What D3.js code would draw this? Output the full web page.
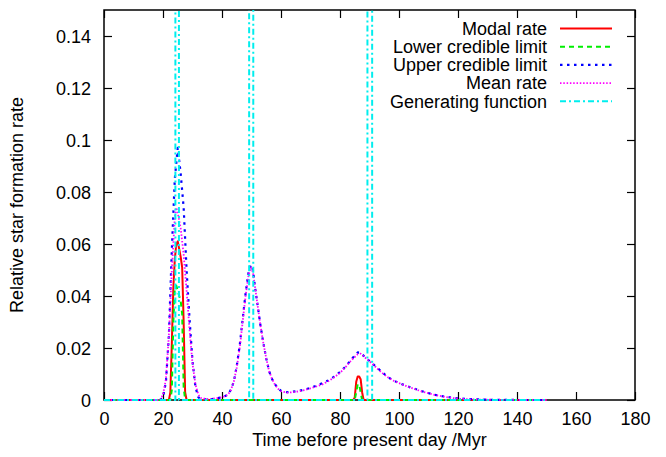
<!DOCTYPE html>
<html><head><meta charset="utf-8">
<script src="https://cdn.jsdelivr.net/npm/d3@7"></script>
<style>
body{margin:0;background:#fff}
svg{display:block}
text{font-family:"Liberation Sans",Arial,Helvetica,sans-serif;font-size:18px;fill:#000}
</style>
</head><body>
<svg id="chart" width="666" height="457"></svg>
<script>
// ---------- data ----------
const xTicks = [0, 20, 40, 60, 80, 100, 120, 140, 160, 180];
const xTickLabels = ["0", "20", "40", "60", "80", "100", "120", "140", "160", "180"];
const yTicks = [0, 0.02, 0.04, 0.06, 0.08, 0.1, 0.12, 0.14];
const yTickLabels = ["0", "0.02", "0.04", "0.06", "0.08", "0.1", "0.12", "0.14"];

const seriesNames = ["Modal rate", "Lower credible limit", "Upper credible limit", "Mean rate", "Generating function"];

const modalTime = [0, 22, 22.5, 23, 23.5, 24, 24.5, 25, 25.5, 26, 26.5, 27, 27.5, 28, 84.5, 85, 85.5, 86, 86.5, 87, 87.5, 88, 150];
const modalRate = [0, 0, 0.003, 0.022, 0.043, 0.054, 0.060, 0.061, 0.058, 0.055, 0.051, 0.030, 0.003, 0, 0, 0.001, 0.007, 0.009, 0.009, 0.008, 0.003, 0, 0];

const lowerTime = [0, 22.5, 23, 23.5, 24, 24.5, 25, 25.5, 26, 26.5, 27, 27.5, 85, 85.5, 86, 86.5, 87, 87.5, 150];
const lowerRate = [0, 0, 0.004, 0.030, 0.043, 0.044, 0.042, 0.040, 0.038, 0.033, 0.005, 0, 0, 0.003, 0.006, 0.006, 0.003, 0, 0];

const upperTime = [0, 19, 20, 21, 22, 23, 24, 25, 26, 27, 28, 29, 30, 31, 32, 33, 36, 40, 42, 43, 44, 45, 46, 47, 48, 49, 49.8, 50.5, 51, 52, 53, 54, 55, 56, 57, 58, 59, 60, 62, 64, 66, 68, 70, 72, 74, 76, 78, 80, 82, 84, 86, 87, 88, 90, 92, 94, 96, 98, 100, 104, 108, 112, 116, 120, 125, 130, 140, 150];
const upperRate = [0, 0, 0.001, 0.007, 0.025, 0.058, 0.085, 0.097, 0.087, 0.074, 0.050, 0.031, 0.015, 0.005, 0.001, 0.0003, 0.0002, 0.001, 0.002, 0.004, 0.007, 0.013, 0.021, 0.031, 0.041, 0.049, 0.052, 0.050, 0.045, 0.037, 0.029, 0.022, 0.016, 0.011, 0.008, 0.006, 0.0045, 0.0035, 0.003, 0.0032, 0.0035, 0.004, 0.0047, 0.0055, 0.0065, 0.0075, 0.009, 0.0107, 0.013, 0.0158, 0.0183, 0.0182, 0.017, 0.015, 0.013, 0.011, 0.009, 0.0075, 0.0065, 0.0048, 0.0033, 0.002, 0.0012, 0.0006, 0.0003, 0.0001, 0, 0];

const meanTime = [0, 19, 20, 21, 22, 23, 24, 24.5, 25, 26, 27, 28, 29, 30, 31, 32, 33, 36, 40, 42, 43, 44, 45, 46, 47, 48, 49, 49.8, 50.5, 51, 52, 53, 54, 55, 56, 57, 58, 59, 60, 62, 64, 66, 68, 70, 72, 74, 76, 78, 80, 82, 84, 86, 87, 88, 90, 92, 94, 96, 98, 100, 104, 108, 112, 116, 120, 125, 130, 140, 150];
const meanRate = [0, 0, 0.002, 0.008, 0.025, 0.050, 0.070, 0.074, 0.072, 0.066, 0.056, 0.042, 0.027, 0.014, 0.006, 0.002, 0.0006, 0.0003, 0.001, 0.002, 0.0038, 0.007, 0.0125, 0.020, 0.030, 0.040, 0.048, 0.051, 0.049, 0.045, 0.037, 0.029, 0.022, 0.016, 0.011, 0.008, 0.0058, 0.0043, 0.0034, 0.0028, 0.003, 0.0033, 0.0038, 0.0045, 0.0052, 0.006, 0.0072, 0.0087, 0.0104, 0.0128, 0.0155, 0.0176, 0.0178, 0.0168, 0.0149, 0.0128, 0.0107, 0.0089, 0.0075, 0.0065, 0.0047, 0.0032, 0.002, 0.0011, 0.0005, 0.0002, 0.0001, 0, 0];

const genTime = [0, 24.2, 24.2, 25.4, 25.4, 49.2, 49.2, 50.6, 50.6, 89.3, 89.3, 90.9, 90.9, 150];
const genRate = [0, 0, 0.3, 0.3, 0, 0, 0.3, 0.3, 0, 0, 0.3, 0.3, 0, 0];

// ---------- layout ----------
const svg = d3.select("#chart");
const L = 104, R = 635, T = 10, B = 400;
const x = d3.scaleLinear().domain([0, 180]).range([L, R]);
const y = d3.scaleLinear().domain([0, 0.15]).range([B, T]);

const styles = [
  {color: "#ff0000", dash: null, width: 2},
  {color: "#00ee00", dash: "5,4", width: 2},
  {color: "#0000ff", dash: "2.5,4.5", width: 2.2},
  {color: "#ff00ff", dash: "1.5,1.8", width: 1.8},
  {color: "#00eeee", dash: "6,3,2,3", width: 2}
];
const series = [
  {t: modalTime, v: modalRate},
  {t: lowerTime, v: lowerRate},
  {t: upperTime, v: upperRate},
  {t: meanTime, v: meanRate},
  {t: genTime, v: genRate}
];

// axes (inward ticks on all four sides)
const tickLen = 8;
const gxB = svg.append("g").attr("transform", `translate(0,${B})`)
  .call(d3.axisBottom(x).tickValues(xTicks).tickSize(-tickLen).tickFormat((d, i) => xTickLabels[i]));
const gxT = svg.append("g").attr("transform", `translate(0,${T})`)
  .call(d3.axisTop(x).tickValues(xTicks).tickSize(-tickLen).tickFormat(""));
const gyL = svg.append("g").attr("transform", `translate(${L},0)`)
  .call(d3.axisLeft(y).tickValues(yTicks).tickSize(-tickLen).tickFormat((d, i) => yTickLabels[i]));
const gyR = svg.append("g").attr("transform", `translate(${R},0)`)
  .call(d3.axisRight(y).tickValues(yTicks).tickSize(-tickLen).tickFormat(""));
[gxB, gxT, gyL, gyR].forEach(g => {
  g.select(".domain").remove();
  g.selectAll(".tick line").attr("stroke", "#000").attr("stroke-width", 1.2);
  g.attr("font-family", null).attr("font-size", null);
});
gxB.selectAll(".tick text").attr("y", 25).attr("dy", null).attr("fill", "#000");
gyL.selectAll(".tick text").attr("x", 91 - L).attr("dy", "0.35em").attr("fill", "#000");

// border
svg.append("rect").attr("x", L).attr("y", T).attr("width", R - L).attr("height", B - T)
  .attr("fill", "none").attr("stroke", "#000").attr("stroke-width", 1.5);

// clip
svg.append("clipPath").attr("id", "clip").append("rect")
  .attr("x", L).attr("y", T).attr("width", R - L).attr("height", B - T + 1.5);

const line = d3.line().x(d => x(d[0])).y(d => y(d[1]));
const plot = svg.append("g").attr("clip-path", "url(#clip)");
series.forEach((s, i) => {
  const pts = s.t.map((t, j) => [t, s.v[j]]);
  plot.append("path").datum(pts).attr("d", line)
    .attr("fill", "none").attr("stroke", styles[i].color)
    .attr("stroke-width", styles[i].width)
    .attr("stroke-dasharray", styles[i].dash)
    .attr("stroke-linejoin", "round");
});

// legend
const leg = svg.append("g");
seriesNames.forEach((name, i) => {
  const yy = 28.5 + i * 18.2;
  leg.append("text").attr("x", 547).attr("y", yy).attr("dy", "0.35em")
    .attr("text-anchor", "end").text(name);
  leg.append("line").attr("x1", 560).attr("x2", 612).attr("y1", yy).attr("y2", yy)
    .attr("stroke", styles[i].color).attr("stroke-width", styles[i].width)
    .attr("stroke-dasharray", styles[i].dash);
});

// axis titles
svg.append("text").attr("x", (L + R) / 2).attr("y", 446).attr("text-anchor", "middle")
  .text("Time before present day /Myr");
svg.append("text").attr("transform", `translate(23,${(T + B) / 2}) rotate(-90)`)
  .attr("text-anchor", "middle").text("Relative star formation rate");
</script>
</body></html>
